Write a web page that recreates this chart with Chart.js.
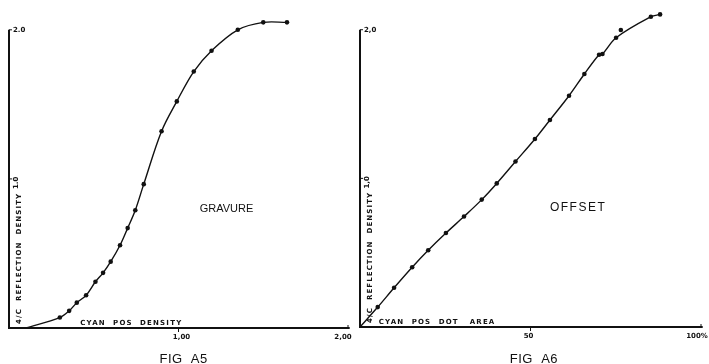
<!DOCTYPE html>
<html lang="en">
  <head>
    <meta charset="UTF-8" />
    <title>Fig A5 / Fig A6</title>
    <style>
      html, body { margin: 0; padding: 0; background: #fff; }
      body { position: relative; width: 709px; height: 364px; overflow: hidden; }
      .panel { position: absolute; top: 0; height: 364px; }
    </style>
  </head>
  <body>
    <div class="panel" style="left:0;width:355px"><canvas id="gravure" width="355" height="364"></canvas></div>
    <div class="panel" style="left:355px;width:354px"><canvas id="offset" width="354" height="364"></canvas></div>

    <script src="https://cdn.jsdelivr.net/npm/chart.js"></script>
    <script>
      // FIG A5 - gravure : cyan pos density vs 4/C reflection density
      const gravureDensity = [0.10, 0.30, 0.355, 0.40, 0.455, 0.51, 0.555, 0.60, 0.655, 0.70, 0.745, 0.795, 0.90, 0.99, 1.09, 1.195, 1.35, 1.50, 1.64];
      const gravureReflection = [0, 0.07, 0.115, 0.17, 0.22, 0.31, 0.37, 0.445, 0.555, 0.67, 0.79, 0.965, 1.32, 1.52, 1.72, 1.86, 2.00, 2.05, 2.05];

      // FIG A6 - offset : cyan pos dot area (%) vs 4/C reflection density
      const offsetDotArea = [0, 5.2, 10, 15.3, 20, 25.2, 30.5, 35.7, 40.1, 45.6, 51.3, 55.7, 61.3, 65.8, 70.1, 71.1, 75.1, 76.5, 85.3, 88];
      const offsetReflection = [0, 0.134, 0.264, 0.402, 0.516, 0.632, 0.743, 0.857, 0.966, 1.113, 1.265, 1.393, 1.556, 1.702, 1.832, 1.837, 1.946, 1.998, 2.087, 2.103];
      const offsetOffCurve = [17]; // stray reading, curve passes under it

      const gravureYTicks = [1, 2];
      const gravureYLabels = ["1.0", "2.0"];
      const gravureXTicks = [1, 2];
      const gravureXLabels = ["1,00", "2,00"];

      const offsetYTicks = [1, 2];
      const offsetYLabels = ["1,0", "2,0"];
      const offsetXTicks = [50, 100];
      const offsetXLabels = ["50", "100%"];

      const ink = "#111";
      const smallFont = "bold 7px 'DejaVu Sans'";
      const yTop = 2; // top of the drawn axis, scale itself runs a bit higher

      function pts(xs, ys, skip) {
        const out = [];
        for (let i = 0; i < xs.length; i++) {
          if (skip && skip.includes(i)) continue;
          out.push({ x: xs[i], y: ys[i] });
        }
        return out;
      }

      // draws the hand-lettered axes, ticks and captions
      const paperPlugin = {
        id: "paper",
        afterDatasetsDraw(chart, args, o) {
          const ctx = chart.ctx;
          const x = chart.scales.x, y = chart.scales.y;
          const x0 = x.getPixelForValue(0);
          const y0 = y.getPixelForValue(0);
          ctx.save();
          ctx.strokeStyle = ink;
          ctx.fillStyle = ink;
          ctx.lineWidth = 2;
          ctx.beginPath();
          ctx.moveTo(x0, y.getPixelForValue(yTop));
          ctx.lineTo(x0, y0);
          ctx.lineTo(x.getPixelForValue(o.xEnd), y0);
          ctx.stroke();

          // y ticks
          ctx.lineWidth = 1;
          ctx.font = smallFont;
          o.yTicks.forEach((v, i) => {
            const py = y.getPixelForValue(v);
            ctx.beginPath();
            ctx.moveTo(x0, py);
            ctx.lineTo(x0 + 3, py);
            ctx.stroke();
            if (v === yTop) {
              ctx.textAlign = "left";
              ctx.textBaseline = "middle";
              ctx.fillText(o.yLabels[i], x0 + 4, py);
            } else {
              ctx.save();
              ctx.translate(x0 + 7, py);
              ctx.rotate(-Math.PI / 2);
              ctx.textAlign = "center";
              ctx.textBaseline = "middle";
              ctx.fillText(o.yLabels[i], -4, 0);
              ctx.restore();
            }
          });

          // x ticks
          o.xTicks.forEach((v, i) => {
            const px = x.getPixelForValue(v);
            ctx.beginPath();
            if (v === x.max) {
              ctx.moveTo(px, y0);
              ctx.lineTo(px, y0 - 3);
            } else {
              ctx.moveTo(px, y0);
              ctx.lineTo(px, y0 + 4);
            }
            ctx.stroke();
            ctx.textAlign = "center";
            ctx.textBaseline = "top";
            ctx.fillText(o.xLabels[i], Math.min(px + o.xLabelShift, chart.width - 12), y0 + 6);
          });

          // axis titles
          ctx.letterSpacing = o.titleSpacing + "px";
          ctx.textAlign = "left";
          ctx.textBaseline = "alphabetic";
          ctx.fillText(o.xTitle, x.getPixelForValue(o.xTitleAt), y0 - 3);
          ctx.letterSpacing = o.yTitleSpacing + "px";
          ctx.save();
          ctx.translate(x0 + 12, y0 - 4);
          ctx.rotate(-Math.PI / 2);
          ctx.fillText(o.yTitle, 0, 0);
          ctx.restore();

          // process name
          ctx.font = o.nameFont;
          ctx.letterSpacing = o.nameSpacing + "px";
          ctx.textBaseline = "middle";
          ctx.fillText(o.name, x.getPixelForValue(o.nameAt[0]), y.getPixelForValue(o.nameAt[1]));

          // figure caption
          ctx.font = "13px 'Liberation Sans'";
          ctx.letterSpacing = "0.5px";
          ctx.textAlign = "center";
          ctx.textBaseline = "alphabetic";
          ctx.fillText(o.caption, x.getPixelForValue(o.captionAt), chart.height - 1);
          ctx.restore();
        },
      };

      function makeChart(id, markers, curve, xMax, padding, paper) {
        return new Chart(document.getElementById(id), {
          type: "scatter",
          data: {
            datasets: [
              {
                data: curve,
                showLine: true,
                borderColor: ink,
                borderWidth: 1.4,
                pointRadius: 0,
                tension: 0.35,
                clip: false,
              },
              {
                data: markers,
                showLine: false,
                backgroundColor: ink,
                borderColor: ink,
                pointRadius: (c) => (c.raw && c.raw.y === 0 ? 0 : 2.3),
                borderWidth: 0,
                clip: false,
              },
            ],
          },
          options: {
            responsive: false,
            animation: false,
            layout: { padding: padding, autoPadding: false },
            plugins: {
              legend: { display: false },
              tooltip: { enabled: false },
              paper: paper,
            },
            scales: {
              x: { type: "linear", min: 0, max: xMax, display: false },
              y: { type: "linear", min: 0, max: 2.2, display: false },
            },
          },
          plugins: [paperPlugin],
        });
      }

      makeChart(
        "gravure",
        pts(gravureDensity, gravureReflection),
        pts(gravureDensity, gravureReflection),
        2,
        { left: 9, right: 7, top: 0, bottom: 36 },
        {
          xEnd: 2.01,
          yTicks: gravureYTicks,
          yLabels: gravureYLabels,
          xTicks: gravureXTicks,
          xLabels: gravureXLabels,
          xLabelShift: 3,
          xTitle: "CYAN  POS  DENSITY",
          xTitleAt: 0.42,
          yTitle: "4/C  REFLECTION  DENSITY",
          titleSpacing: 1.2,
          yTitleSpacing: 1.1,
          name: "GRAVURE",
          nameFont: "11px 'Liberation Sans'",
          nameAt: [1.125, 0.8],
          nameSpacing: 0,
          caption: "FIG  A5",
          captionAt: 1.03,
        }
      );

      makeChart(
        "offset",
        pts(offsetDotArea, offsetReflection),
        pts(offsetDotArea, offsetReflection, offsetOffCurve),
        100,
        { left: 5, right: 8, top: 0, bottom: 37 },
        {
          xEnd: 100.5,
          yTicks: offsetYTicks,
          yLabels: offsetYLabels,
          xTicks: offsetXTicks,
          xLabels: offsetXLabels,
          xLabelShift: -2,
          xTitle: "CYAN  POS  DOT   AREA",
          xTitleAt: 5.5,
          yTitle: "4/C  REFLECTION  DENSITY",
          titleSpacing: 1.2,
          yTitleSpacing: 1.1,
          name: "OFFSET",
          nameFont: "12px 'Liberation Sans'",
          nameAt: [55.7, 0.8],
          nameSpacing: 1.5,
          caption: "FIG  A6",
          captionAt: 51,
        }
      );
    </script>
  </body>
</html>
